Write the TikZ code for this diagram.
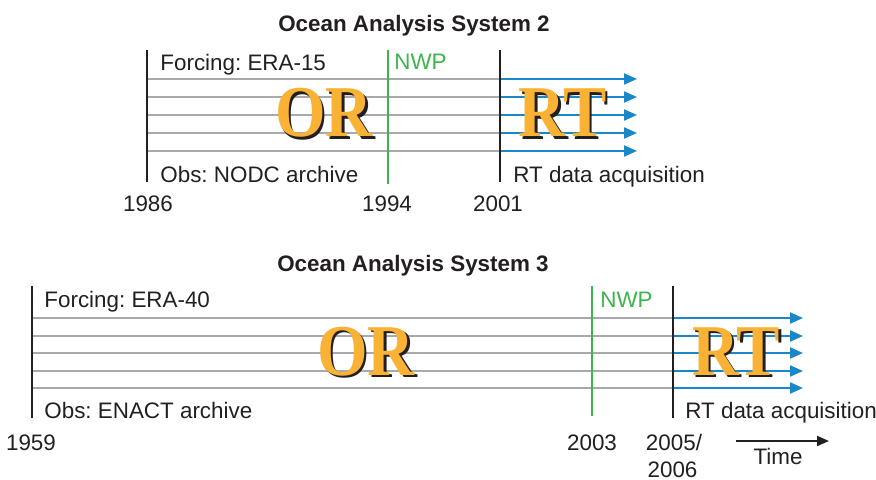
\documentclass[tikz,border=0pt]{standalone}
\usepackage{fontspec}
\setmainfont{Liberation Sans}
\newfontfamily\bigserif{Liberation Serif}
\usetikzlibrary{arrows.meta}
\definecolor{lgray}{HTML}{A7A9AC}
\definecolor{rtblue}{HTML}{1B87C9}
\definecolor{nwpgreen}{HTML}{3DB54A}
\definecolor{gold}{HTML}{F9B233}
\definecolor{ink}{HTML}{231F20}
\frenchspacing
\begin{document}
\begin{tikzpicture}[x=0.5pt,y=-0.5pt,
  lbl/.style={font=\fontsize{11.2}{13}\selectfont, text=ink, inner sep=0pt},
  ttl/.style={font=\fontsize{11.2}{13}\selectfont\bfseries, text=ink, inner sep=0pt, anchor=base},
  nwp/.style={lbl, text=nwpgreen, anchor=base west},
  yr/.style={lbl, anchor=base},
  grayline/.style={draw=lgray, line width=1.1pt},
  rtarrow/.style={draw=rtblue, line width=1.1pt, -{Triangle[length=6.5pt,width=5.5pt]}},
  blackbar/.style={draw=ink, line width=1.4pt},
  greenbar/.style={draw=nwpgreen, line width=1.3pt},
  bigtxt/.style={font=\fontsize{36.5}{40}\bigserif\bfseries, text=gold, inner sep=0pt, anchor=base, xscale=0.89},
  bigshadow/.style={bigtxt, text=ink}
]
\useasboundingbox (0,0) rectangle (876,480);

% ---------------- System 2 ----------------
\node[ttl] (t2) at (414,32) {Ocean Analysis System 2};

\foreach \y [count=\i] in {79,97,115,133,151} {
  \coordinate (a\i) at (147,\y);
  \coordinate (b\i) at (500,\y);
  \coordinate (c\i) at (637,\y);
  \draw[grayline] (a\i) -- (b\i);
  \draw[rtarrow] (b\i) -- (c\i);
}
\coordinate (l2t) at (147,50);  \coordinate (l2b) at (147,182);
\coordinate (g2t) at (388,50);  \coordinate (g2b) at (388,184);
\coordinate (r2t) at (500,50);  \coordinate (r2b) at (500,182);
\draw[blackbar] (l2t) -- (l2b);
\draw[greenbar] (g2t) -- (g2b);
\draw[blackbar] (r2t) -- (r2b);

\node[bigshadow] at (326.5,139.5) {OR};
\node[bigtxt] (or2) at (324,137) {OR};
\node[bigshadow] at (565,139.5) {RT};
\node[bigtxt] (rt2) at (562.5,137) {RT};

\node[lbl, anchor=base west] (f2) at (160,71) {Forcing: ERA-15};
\node[nwp] (n2) at (394,70) {NWP};
\node[lbl, anchor=base west] (o2) at (160,183) {Obs: NODC archive};
\node[lbl, anchor=base west] (d2) at (513,183) {RT data acquisition};
\node[yr] (y1986) at (148,212) {1986};
\node[yr] (y1994) at (387,212) {1994};
\node[yr] (y2001) at (498,212) {2001};

% ---------------- System 3 ----------------
\node[ttl] (t3) at (413,271) {Ocean Analysis System 3};

\foreach \y [count=\i] in {318,336,353,371,388} {
  \coordinate (p\i) at (32,\y);
  \coordinate (q\i) at (673,\y);
  \coordinate (s\i) at (803,\y);
  \draw[grayline] (p\i) -- (q\i);
  \draw[rtarrow] (q\i) -- (s\i);
}
\coordinate (l3t) at (32,286);  \coordinate (l3b) at (32,418);
\coordinate (g3t) at (592,286); \coordinate (g3b) at (592,416);
\coordinate (r3t) at (673,286); \coordinate (r3b) at (673,418);
\draw[blackbar] (l3t) -- (l3b);
\draw[greenbar] (g3t) -- (g3b);
\draw[blackbar] (r3t) -- (r3b);

\node[bigshadow] at (368.5,377.5) {OR};
\node[bigtxt] (or3) at (366,375) {OR};
\node[bigshadow] at (738.5,377.5) {RT};
\node[bigtxt] (rt3) at (736,375) {RT};

\node[lbl, anchor=base west] (f3) at (44,307) {Forcing: ERA-40};
\node[nwp] (n3) at (600,307) {NWP};
\node[lbl, anchor=base west] (o3) at (44,418) {Obs: ENACT archive};
\node[lbl, anchor=base west] (d3) at (685,418) {RT data acquisition};
\node[yr] (y1959) at (31,450) {1959};
\node[yr] (y2003) at (592,450) {2003};
\node[yr] (y2005) at (674,450) {2005/};
\node[yr] (y2006) at (672.5,477) {2006};

\coordinate (ts) at (736,441);
\coordinate (te) at (829,441);
\draw[draw=ink, line width=1pt, -{Triangle[length=6pt,width=5pt]}] (ts) -- (te);
\node[yr] (time) at (778,464) {Time};
\end{tikzpicture}
\end{document}
